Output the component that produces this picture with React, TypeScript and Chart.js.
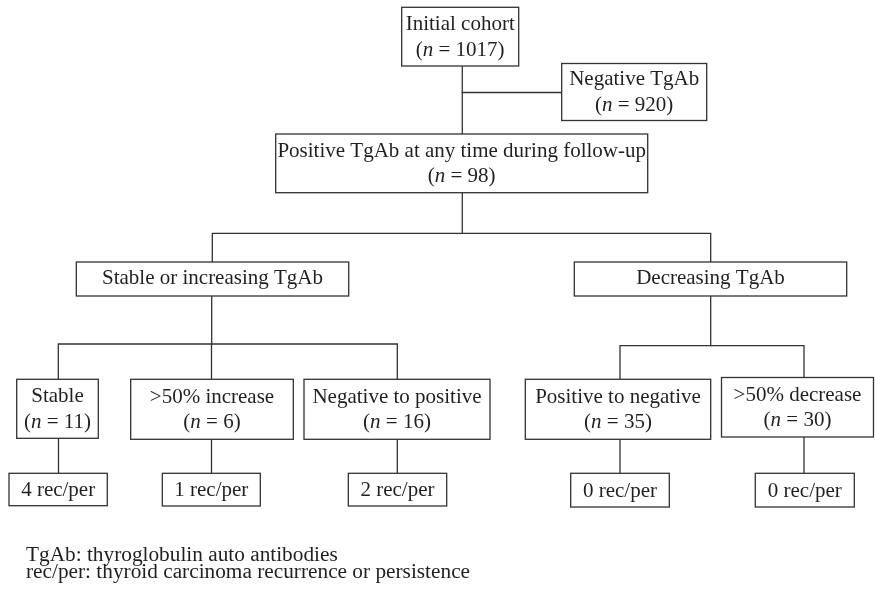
import React, { useEffect, useRef } from "react";
import { Chart, registerables } from "chart.js";

Chart.register(...registerables);

// ---------- DATA ----------
const nodeLabels = [
  "Initial cohort",
  "Negative TgAb",
  "Positive TgAb at any time during follow-up",
  "Stable or increasing TgAb",
  "Decreasing TgAb",
  "Stable",
  ">50% increase",
  "Negative to positive",
  "Positive to negative",
  ">50% decrease",
];
const nodeCounts: (number | null)[] = [1017, 920, 98, null, null, 11, 6, 16, 35, 30];
const outcomeSuffix = "rec/per";
const outcomeCounts = [4, 1, 2, 0, 0];
const footnotes = [
  "TgAb: thyroglobulin auto antibodies",
  "rec/per: thyroid carcinoma recurrence or persistence",
];

// ---------- LAYOUT (in a 875 x 592 coordinate space) ----------
const nodeBoxes = [
  [401.7, 7.3, 518.7, 66],
  [561.7, 63.5, 706.7, 120.5],
  [275.7, 134, 647.7, 192.7],
  [76.3, 262, 348.7, 296],
  [574.3, 262, 846.7, 296],
  [16.7, 379.3, 98.3, 438.3],
  [130.7, 379.3, 293.3, 439.3],
  [304, 379.3, 490, 439.3],
  [525.3, 379.3, 710.7, 439.3],
  [721.5, 377.5, 873.5, 437],
];
const outcomeBoxes = [
  [9, 473.3, 107.3, 505.7],
  [162.3, 473.3, 260.3, 506],
  [348.3, 473.3, 446.7, 506],
  [570.7, 473.3, 669.3, 507],
  [755.3, 473.3, 854.3, 507],
];
const connectors = [
  [[462.3, 66], [462.3, 134]],
  [[462.3, 92.5], [561.7, 92.5]],
  [[462.3, 192.7], [462.3, 233.3]],
  [[212.3, 262], [212.3, 233.3], [710.7, 233.3], [710.7, 262]],
  [[211.7, 296], [211.7, 344]],
  [[58.3, 379.3], [58.3, 344], [397.3, 344], [397.3, 379.3]],
  [[211.5, 344], [211.5, 379.3]],
  [[710.7, 296], [710.7, 345.7]],
  [[620, 379.3], [620, 345.7], [804, 345.7], [804, 377.5]],
  [[58.5, 438.3], [58.5, 473.3]],
  [[211.5, 439.3], [211.5, 473.3]],
  [[397.3, 439.3], [397.3, 473.3]],
  [[620, 439.3], [620, 473.3]],
  [[804, 437], [804, 473.3]],
];
const footnoteX = 26;
const footnoteY = [560.5, 578];

const FONT_FAMILY = '"Liberation Serif", "Times New Roman", serif';
const FONT_SIZE = 21;
const FOOT_FONT_SIZE = 21.3;
const TEXT_COLOR = "#231f20";
const LINE_COLOR = "#333333";

const flowPlugin = {
  id: "flowchart",
  afterDatasetsDraw(chart: any) {
    const ctx: CanvasRenderingContext2D = chart.ctx;
    const xs = chart.scales.x;
    const ys = chart.scales.y;
    const px = (v: number) => xs.getPixelForValue(v);
    const py = (v: number) => ys.getPixelForValue(v);
    ctx.save();
    ctx.strokeStyle = LINE_COLOR;
    ctx.lineWidth = 1.3;
    ctx.lineCap = "square";

    connectors.forEach((pts) => {
      ctx.beginPath();
      pts.forEach((p, i) => {
        if (i === 0) ctx.moveTo(px(p[0]), py(p[1]));
        else ctx.lineTo(px(p[0]), py(p[1]));
      });
      ctx.stroke();
    });

    const drawBox = (b: number[]) => {
      const x0 = px(b[0]), y0 = py(b[1]), x1 = px(b[2]), y1 = py(b[3]);
      ctx.fillStyle = "#ffffff";
      ctx.fillRect(x0, y0, x1 - x0, y1 - y0);
      ctx.strokeRect(x0, y0, x1 - x0, y1 - y0);
    };

    const normal = `${FONT_SIZE}px ${FONT_FAMILY}`;
    const italic = `italic ${FONT_SIZE}px ${FONT_FAMILY}`;
    ctx.textBaseline = "alphabetic";

    const drawCentered = (text: string, cx: number, y: number) => {
      ctx.font = normal;
      ctx.textAlign = "center";
      ctx.fillStyle = TEXT_COLOR;
      ctx.fillText(text, cx, y);
    };
    const drawCount = (n: number, cx: number, y: number) => {
      const parts: [string, string][] = [
        ["(", normal],
        ["n", italic],
        [" = " + n + ")", normal],
      ];
      let total = 0;
      parts.forEach(([t, f]) => {
        ctx.font = f;
        total += ctx.measureText(t).width;
      });
      let x = cx - total / 2;
      ctx.textAlign = "left";
      ctx.fillStyle = TEXT_COLOR;
      parts.forEach(([t, f]) => {
        ctx.font = f;
        ctx.fillText(t, x, y);
        x += ctx.measureText(t).width;
      });
    };

    nodeBoxes.forEach((b, i) => {
      drawBox(b);
      const cx = (px(b[0]) + px(b[2])) / 2;
      const cy = (py(b[1]) + py(b[3])) / 2;
      const n = nodeCounts[i];
      if (n === null || n === undefined) {
        drawCentered(nodeLabels[i], cx, cy + 5);
      } else {
        drawCentered(nodeLabels[i], cx, cy - 6.6);
        drawCount(n, cx, cy + 19);
      }
    });

    outcomeBoxes.forEach((b, i) => {
      drawBox(b);
      const cx = (px(b[0]) + px(b[2])) / 2;
      const cy = (py(b[1]) + py(b[3])) / 2;
      drawCentered(`${outcomeCounts[i]} ${outcomeSuffix}`, cx, cy + 6.5);
    });

    ctx.font = `${FOOT_FONT_SIZE}px ${FONT_FAMILY}`;
    ctx.textAlign = "left";
    ctx.fillStyle = TEXT_COLOR;
    footnotes.forEach((t, i) => ctx.fillText(t, px(footnoteX), py(footnoteY[i])));
    ctx.restore();
  },
};

export default function App() {
  const canvasRef = useRef<HTMLCanvasElement | null>(null);
  useEffect(() => {
    document.body.style.margin = "0";
    const canvas = canvasRef.current;
    if (!canvas) return;
    const centers = nodeBoxes.map((b) => ({ x: (b[0] + b[2]) / 2, y: (b[1] + b[3]) / 2 }));
    const chart = new Chart(canvas, {
      type: "scatter",
      data: {
        datasets: [
          {
            label: "nodes",
            data: centers,
            pointRadius: 0,
            pointHoverRadius: 0,
          },
        ],
      },
      options: {
        animation: false,
        responsive: true,
        maintainAspectRatio: false,
        layout: { padding: 0 },
        events: [],
        plugins: {
          legend: { display: false },
          tooltip: { enabled: false },
          title: { display: false },
        },
        scales: {
          x: { type: "linear", min: 0, max: 875, display: false },
          y: { type: "linear", min: 0, max: 592, reverse: true, display: false },
        },
      },
      plugins: [flowPlugin],
    });
    return () => chart.destroy();
  }, []);
  return (
    <div style={{ position: "absolute", left: 0, top: 0, width: 875, height: 592, background: "#ffffff" }}>
      <canvas ref={canvasRef} />
    </div>
  );
}
